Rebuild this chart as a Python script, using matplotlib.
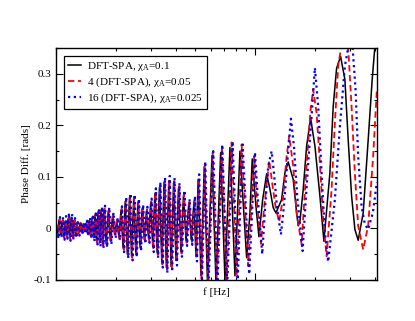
import numpy as np
import matplotlib
matplotlib.use("Agg")
import matplotlib.pyplot as plt
from matplotlib.ticker import MultipleLocator, NullFormatter, LogLocator

plt.rcParams['font.family'] = ['Liberation Serif', 'DejaVu Serif']
plt.rcParams['mathtext.fontset'] = 'custom'
plt.rcParams['mathtext.rm'] = 'Liberation Serif'
plt.rcParams['mathtext.it'] = 'Liberation Serif:italic'

# extrema / shape points (f in Hz, phase in rad)
black_f = [10.00, 10.18, 10.35, 10.53, 10.72, 10.91, 11.10, 11.29, 11.49, 11.69,
           11.90, 12.10, 12.32, 12.53, 12.75, 12.98, 13.20, 13.44, 13.67, 13.91,
           14.15, 14.40, 14.65, 14.91, 15.17, 15.44, 15.71, 15.98, 16.26, 16.55,
           16.84, 17.13, 17.43, 17.86, 18.31, 18.76, 19.23, 19.71, 20.20, 20.70,
           21.21, 21.74, 22.28, 22.83, 23.40, 23.98, 24.57, 25.18, 25.81, 26.45,
           27.11, 27.78, 28.47, 29.18, 29.90, 30.64, 31.40, 32.24, 33.11, 34.01,
           34.92, 35.87, 36.88, 37.91, 38.98, 40.09, 41.27, 42.48, 43.72, 45.06,
           46.44, 47.85, 49.37, 50.53, 51.83, 53.54, 55.62, 57.72,
           60.81, 63.69, 67.25, 70.68, 74.89, 79.35, 84.07, 90.85, 94.38, 96.93,
           101.18, 104.75, 109.34, 114.52, 118.97, 123.60, 127.52, 136.21, 141.52, 147.02,
           155.78, 162.03, 165.06, 168.34, 174.89, 181.91, 190.53, 200.24, 212.17, 222.22,
           238.18, 247.45, 257.38, 269.57, 283.32, 294.35, 306.16, 318.08, 330.46, 350.14,
           371.0, 388.58, 400.9, 410.3]
black_phase = [0.012, -0.014, 0.016, -0.012, 0.014, -0.016, 0.013, -0.015, 0.018, -0.017,
               0.019, -0.016, 0.015, -0.013, 0.011, -0.010, 0.009, -0.007, 0.007, -0.006,
               0.010, -0.010, 0.015, -0.014, 0.020, -0.018, 0.026, -0.024, 0.031, -0.028,
               0.035, -0.031, 0.037, -0.030, 0.034, -0.024, 0.024, -0.012, 0.014, -0.016,
               0.035, -0.038, 0.052, -0.050, 0.060, -0.054, 0.058, -0.048, 0.050, -0.036,
               0.038, -0.022, 0.034, -0.020, 0.048, -0.036, 0.068, -0.047, 0.080, -0.066,
               0.089, -0.076, 0.092, -0.074, 0.088, -0.062, 0.078, -0.045, 0.064, -0.024,
               0.047, -0.022, 0.052, -0.054, 0.095, -0.092, 0.120, -0.105,
               0.141, -0.105, 0.147, -0.100, 0.157, -0.092, 0.150, -0.057, 0.030, 0.135,
               0.043, -0.016, 0.056, 0.106, 0.076, 0.040, 0.030, 0.056, 0.108, 0.129,
               0.095, 0.030, 0.005, 0.014, 0.076, 0.160, 0.214, 0.160, 0.063, -0.025,
               0.108, 0.237, 0.311, 0.334, 0.289, 0.172, 0.063, -0.002, -0.023, 0.030,
               0.172, 0.289, 0.353, 0.400]

red_f = [10.00, 10.25, 10.42, 10.60, 10.80, 10.99, 11.18, 11.37, 11.57, 11.77,
         11.98, 12.18, 12.41, 12.62, 12.84, 13.07, 13.29, 13.53, 13.77, 14.01,
         14.25, 14.50, 14.75, 15.01, 15.28, 15.55, 15.82, 16.09, 16.37, 16.67,
         16.96, 17.25, 17.55, 17.98, 18.44, 18.89, 19.36, 19.85, 20.34, 20.84,
         21.36, 21.89, 22.44, 22.99, 23.56, 24.15, 24.74, 25.36, 25.99, 26.64,
         27.30, 27.97, 28.67, 29.38, 30.11, 30.85, 31.62, 32.47, 33.34, 34.25,
         35.16, 36.12, 37.14, 38.18, 39.25, 40.37, 41.56, 42.78, 44.03, 45.38,
         46.77, 48.18, 49.72, 50.88, 52.19, 53.91, 56.01, 58.12,
         61.29, 64.43, 68.26, 72.07, 76.37, 80.91, 85.73, 92.53, 99.18, 102.71,
         107.20, 111.37, 117.99, 122.72, 127.52, 132.48, 138.75, 144.32, 148.73, 155.77,
         162.01, 171.65, 176.28, 183.13, 190.48, 196.31, 204.18, 212.11, 220.37, 229.20,
         242.85, 252.29, 262.11, 278.36, 294.94, 306.07, 318.0, 330.38, 349.99, 370.84,
         392.92, 410.3]
red_phase = [0.010, -0.016, 0.018, -0.014, 0.016, -0.018, 0.015, -0.017, 0.020, -0.019,
             0.021, -0.018, 0.017, -0.015, 0.013, -0.012, 0.011, -0.009, 0.009, -0.008,
             0.012, -0.012, 0.017, -0.016, 0.023, -0.021, 0.029, -0.027, 0.034, -0.031,
             0.038, -0.034, 0.040, -0.033, 0.037, -0.027, 0.027, -0.015, 0.017, -0.019,
             0.038, -0.041, 0.056, -0.053, 0.063, -0.057, 0.061, -0.051, 0.053, -0.039,
             0.041, -0.025, 0.037, -0.023, 0.052, -0.040, 0.072, -0.051, 0.084, -0.070,
             0.093, -0.080, 0.096, -0.078, 0.092, -0.066, 0.082, -0.049, 0.068, -0.028,
             0.051, -0.026, 0.057, -0.058, 0.099, -0.097, 0.125, -0.110,
             0.147, -0.105, 0.160, -0.102, 0.167, -0.092, 0.163, -0.073, 0.140, 0.043,
             -0.030, 0.043, 0.132, 0.082, 0.037, 0.014, 0.063, 0.140, 0.179, 0.121,
             0.030, -0.031, 0.043, 0.140, 0.231, 0.270, 0.224, 0.127, 0.017, -0.054,
             0.076, 0.205, 0.315, 0.380, 0.345, 0.237, 0.108, 0.005, -0.041, 0.005,
             0.140, 0.270]

blue_f = [10.00, 10.30, 10.47, 10.65, 10.84, 11.04, 11.23, 11.42, 11.62, 11.83,
          12.04, 12.24, 12.46, 12.68, 12.90, 13.13, 13.35, 13.60, 13.83, 14.07,
          14.31, 14.57, 14.82, 15.08, 15.35, 15.62, 15.89, 16.17, 16.45, 16.74,
          17.04, 17.33, 17.63, 18.07, 18.52, 18.98, 19.45, 19.94, 20.43, 20.94,
          21.46, 21.99, 22.54, 23.09, 23.67, 24.26, 24.86, 25.47, 26.11, 26.76,
          27.42, 28.10, 28.80, 29.52, 30.25, 31.00, 31.76, 32.61, 33.49, 34.40,
          35.33, 36.29, 37.31, 38.35, 39.43, 40.56, 41.75, 42.97, 44.23, 45.58,
          46.98, 48.41, 49.94, 51.12, 52.43, 54.16, 56.27, 58.39,
          61.72, 64.81, 68.49, 72.57, 77.25, 81.85, 86.73, 93.60, 100.0, 103.19,
          108.82, 113.18, 116.63, 121.31, 124.58, 129.45, 135.11, 139.88, 145.33, 151.68,
          157.04, 163.13, 173.65, 178.34, 185.27, 192.70, 200.20, 207.99, 216.32, 224.73,
          233.48, 252.29, 267.32, 283.23, 305.36, 320.59, 330.38, 343.57, 356.94, 370.84,
          391.56, 410.3]
blue_phase = [0.008, -0.020, 0.022, -0.018, 0.020, -0.022, 0.024, -0.020, 0.030, -0.024,
              0.028, -0.022, 0.020, -0.018, 0.016, -0.014, 0.013, -0.011, 0.011, -0.010,
              0.015, -0.015, 0.021, -0.020, 0.027, -0.025, 0.033, -0.031, 0.038, -0.035,
              0.042, -0.038, 0.044, -0.037, 0.041, -0.031, 0.031, -0.019, 0.021, -0.023,
              0.043, -0.046, 0.061, -0.058, 0.068, -0.062, 0.066, -0.056, 0.058, -0.044,
              0.046, -0.030, 0.042, -0.028, 0.058, -0.046, 0.078, -0.057, 0.090, -0.076,
              0.099, -0.086, 0.102, -0.084, 0.098, -0.072, 0.088, -0.055, 0.074, -0.034,
              0.057, -0.032, 0.063, -0.064, 0.105, -0.103, 0.130, -0.115,
              0.150, -0.110, 0.163, -0.110, 0.169, -0.105, 0.163, -0.089, 0.148, 0.063,
              -0.050, 0.056, 0.121, 0.150, 0.108, 0.037, -0.012, 0.043, 0.127, 0.213,
              0.160, 0.063, -0.044, 0.030, 0.127, 0.218, 0.312, 0.237, 0.108, -0.008,
              -0.065, 0.056, 0.198, 0.315, 0.385, 0.269, 0.140, 0.043, 0.008, -0.002,
              0.030, 0.090]

labels = ['DFT-SPA, \u03c7$_\\mathrm{A}$=0.1',
          '4 (DFT-SPA), \u03c7$_\\mathrm{A}$=0.05',
          '16 (DFT-SPA), \u03c7$_\\mathrm{A}$=0.025']

fig = plt.figure(figsize=(4.15, 3.21), dpi=100)
ax = fig.add_axes([0.135, 0.128, 0.773, 0.722])

ax.plot(black_f, black_phase, color='black', lw=1.1, label=labels[0])
ax.plot(red_f, red_phase, color='red', lw=1.3, linestyle=(0, (3.5, 2.0)), label=labels[1])
ax.plot(blue_f, blue_phase, color='blue', lw=1.6, linestyle=(0, (1, 1.6)), label=labels[2])

ax.set_xscale('log')
ax.set_xlim(10, 410)
ax.set_ylim(-0.1, 0.35)
ax.xaxis.set_major_locator(LogLocator(base=10))
ax.xaxis.set_minor_locator(LogLocator(base=10, subs=np.arange(2, 10)))
ax.xaxis.set_major_formatter(NullFormatter())
ax.xaxis.set_minor_formatter(NullFormatter())
ax.yaxis.set_minor_locator(MultipleLocator(0.05))
ax.set_yticks([-0.1, 0, 0.1, 0.2, 0.3])
ax.set_yticklabels(['-0.1', '0', '0.1', '0.2', '0.3'])
ax.tick_params(which='both', direction='in', top=True, right=True, labelsize=8)
ax.tick_params(which='major', length=5, width=0.8)
ax.tick_params(which='minor', length=2.5, width=0.8)
for s in ax.spines.values():
    s.set_linewidth(1.0)

ax.set_xlabel('f [Hz]', fontsize=8, labelpad=2)
ax.set_ylabel('Phase Diff. [rads]', fontsize=8, labelpad=2)

leg = ax.legend(loc='upper left', fontsize=8, frameon=True, fancybox=False,
                edgecolor='black', framealpha=1, handlelength=1.15,
                handletextpad=0.55, borderaxespad=0.75, labelspacing=0.2,
                borderpad=0.35)
leg.get_frame().set_linewidth(0.9)

fig.savefig('out.png', dpi=100)
